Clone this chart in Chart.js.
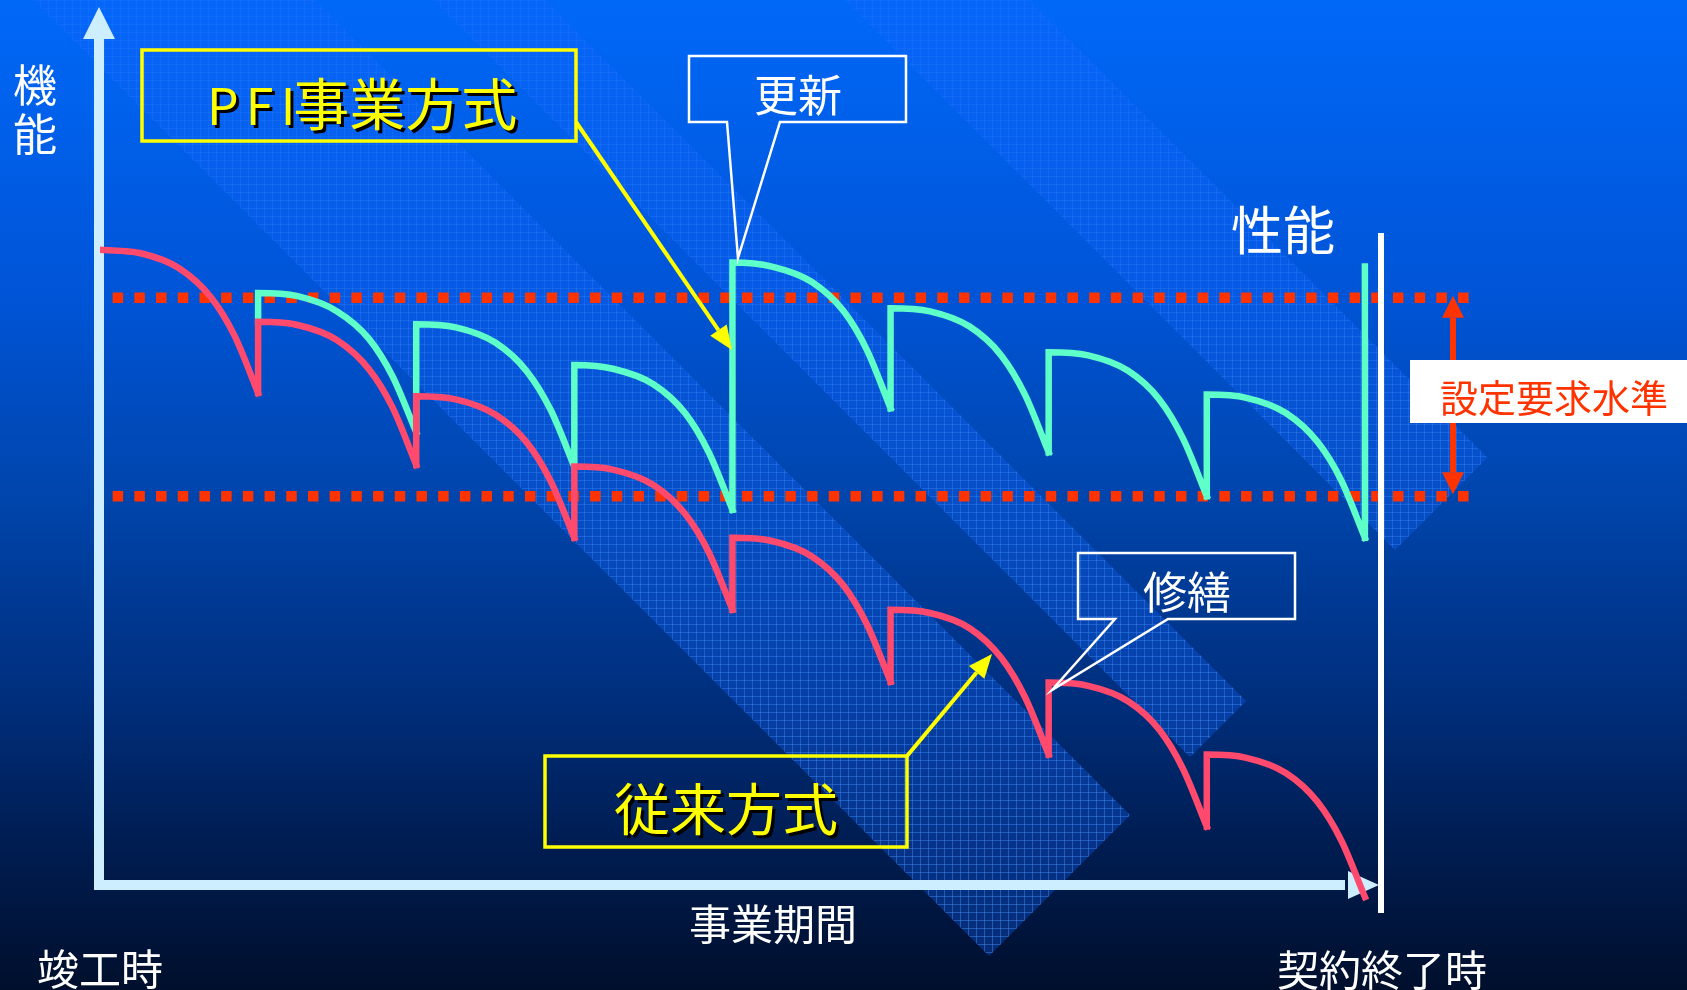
<!DOCTYPE html>
<html lang="ja">
<head>
<meta charset="utf-8">
<title>PFI事業方式と従来方式</title>
<script src="https://cdn.jsdelivr.net/npm/chart.js@4.4.1/dist/chart.umd.min.js"></script>
<style>
    html, body { margin: 0; padding: 0; overflow: hidden; background: #000f2c; }
    #stage { position: relative; width: 1687px; height: 990px; }
    #chart-canvas { position: absolute; left: 0; top: 0; }
    .label {
        position: absolute;
        transform: translate(-50%, -50%);
        white-space: nowrap;
        line-height: 1;
        color: #ffffff;
        font-family: "Noto Sans CJK JP", "Noto Sans CJK SC", sans-serif;
    }
    .yellow { color: #ffff00; text-shadow: 3px 3px 0 #000000; }
</style>
</head>
<body>
<div id="stage">
    <canvas id="chart-canvas" width="1687" height="990"></canvas>
    <div class="label" style="left:35px; top:108px; font-size:44px; line-height:49px; text-align:center;">機<br>能</div>
    <div class="label yellow" style="left:207px; top:101px; transform:translateY(-50%); font-size:56px;"><span style="font-size:50px; letter-spacing:-2px;">P F I</span>事業方式</div>
    <div class="label" style="left:798px; top:93px; font-size:44px;">更新</div>
    <div class="label" style="left:1283px; top:228px; font-size:52px;">性能</div>
    <div class="label" style="left:1554px; top:396px; font-size:38px; color:#ff3300;">設定要求水準</div>
    <div class="label" style="left:1187px; top:590px; font-size:44px;">修繕</div>
    <div class="label yellow" style="left:726px; top:806px; font-size:56px;">従来方式</div>
    <div class="label" style="left:773px; top:922px; font-size:42px;">事業期間</div>
    <div class="label" style="left:100px; top:967px; font-size:42px;">竣工時</div>
    <div class="label" style="left:1382px; top:968px; font-size:42px;">契約終了時</div>
</div>
<script>
// 周期の開始位置 (事業期間を8周期に区切る)
const cycleStarts = [0, 1, 2, 3, 4, 5, 6, 7];
// 1周期の中で値を読んだ位置 (周期に対する割合)
const cycleSteps = [0, 0.25, 0.5, 0.7, 0.85, 1];

// 従来方式: 周期ごとの機能の低下 (修繕で一部だけ回復)
const conventionalCycles = [
    [79.4, 79.0, 77.1, 73.5, 68.7, 61.5],
    [70.4, 70.0, 68.1, 64.5, 59.7, 52.5],
    [61.1, 60.7, 58.8, 55.3, 50.5, 43.4],
    [52.3, 51.9, 50.0, 46.4, 41.6, 34.4],
    [43.4, 43.0, 41.1, 37.5, 32.6, 25.4],
    [34.4, 34.0, 32.1, 28.4, 23.5, 16.3],
    [25.3, 24.9, 23.0, 19.4, 14.5, 7.3],
    [16.3, 15.9, 14.0, 10.4, 5.6, -1.5]
];

// PFI事業方式: 2周期目から分かれ、4周期目の終わりに更新
const pfiStartFrom = 70.4;
const pfiCycles = [
    [74.0, 73.6, 71.7, 68.3, 63.6, 56.6],
    [70.1, 69.7, 67.8, 64.2, 59.4, 52.3],
    [65.0, 64.5, 62.6, 59.0, 54.1, 46.9],
    [77.8, 77.3, 75.4, 71.8, 66.9, 59.6],
    [72.1, 71.7, 69.8, 66.2, 61.3, 54.1],
    [66.6, 66.2, 64.3, 60.7, 55.8, 48.6],
    [61.3, 60.9, 59.0, 55.4, 50.6, 43.4]
];
const pfiFinalRenewal = 77.3;

// 設定要求水準 (上限・下限) と点線の範囲
const requiredUpper = 73.4;
const requiredLower = 48.6;
const requiredSpan = [0.08, 8.71];

// 周期ごとの点列をつなぐ (縦の回復部分は次の区間の先頭に入れる)
function buildSeries(firstCycle, cycles, leadIn, finalJump) {
    const points = [];
    let prev = leadIn;
    cycles.forEach((values, i) => {
        const x0 = cycleStarts[firstCycle + i];
        if (prev !== null) points.push({ x: x0, y: prev });
        values.forEach((v, j) => points.push({ x: x0 + cycleSteps[j], y: v }));
        prev = values[values.length - 1];
        points.push({ x: x0 + 1, y: null });
    });
    if (finalJump !== null) {
        const xEnd = cycleStarts[firstCycle + cycles.length - 1] + 1;
        points.push({ x: xEnd, y: prev }, { x: xEnd, y: finalJump });
    }
    return points;
}

function drawArrow(ctx, x1, y1, x2, y2, color, lineW, headLen, headHalf) {
    const ang = Math.atan2(y2 - y1, x2 - x1);
    const bx = x2 - headLen * Math.cos(ang);
    const by = y2 - headLen * Math.sin(ang);
    ctx.strokeStyle = color;
    ctx.lineWidth = lineW;
    ctx.beginPath();
    ctx.moveTo(x1, y1);
    ctx.lineTo(bx, by);
    ctx.stroke();
    ctx.fillStyle = color;
    ctx.beginPath();
    ctx.moveTo(x2, y2);
    ctx.lineTo(bx + headHalf * Math.sin(ang), by - headHalf * Math.cos(ang));
    ctx.lineTo(bx - headHalf * Math.sin(ang), by + headHalf * Math.cos(ang));
    ctx.closePath();
    ctx.fill();
}

function drawPolygon(ctx, pts, color, lineW) {
    ctx.strokeStyle = color;
    ctx.lineWidth = lineW;
    ctx.lineJoin = 'miter';
    ctx.beginPath();
    pts.forEach(([x, y], i) => (i ? ctx.lineTo(x, y) : ctx.moveTo(x, y)));
    ctx.closePath();
    ctx.stroke();
}

// 斜めの帯 (x - y = c の2本の線と x + y = s の端で囲む)
function drawBand(ctx, c1, c2, sEnd, w, h) {
    const pt = (c, s) => [(c + s) / 2, (s - c) / 2];
    const corners = [pt(c1, sEnd), pt(c2, sEnd), pt(c2, -600), pt(c1, -600)];
    ctx.save();
    ctx.beginPath();
    corners.forEach(([x, y], i) => (i ? ctx.lineTo(x, y) : ctx.moveTo(x, y)));
    ctx.closePath();
    ctx.fillStyle = 'rgba(20, 100, 255, 0.32)';
    ctx.fill();
    ctx.clip();
    // 格子は下に行くほど濃く見える
    const gridColor = ctx.createLinearGradient(0, 0, 0, h);
    gridColor.addColorStop(0, 'rgba(70, 150, 255, 0.12)');
    gridColor.addColorStop(0.5, 'rgba(70, 150, 255, 0.3)');
    gridColor.addColorStop(1, 'rgba(70, 150, 255, 0.45)');
    ctx.strokeStyle = gridColor;
    ctx.lineWidth = 1;
    ctx.beginPath();
    for (let x = 0.5; x < w; x += 8) { ctx.moveTo(x, 0); ctx.lineTo(x, h); }
    for (let y = 0.5; y < h; y += 8) { ctx.moveTo(0, y); ctx.lineTo(w, y); }
    ctx.stroke();
    ctx.restore();
}

const slideDecor = {
    id: 'slideDecor',
    beforeDraw(chart) {
        const { ctx, width, height } = chart;
        const g = ctx.createLinearGradient(0, 0, 0, height);
        g.addColorStop(0, '#0068f8');
        g.addColorStop(0.3, '#0054d6');
        g.addColorStop(0.5, '#0045ac');
        g.addColorStop(0.7, '#002f7e');
        g.addColorStop(0.85, '#001d52');
        g.addColorStop(1, '#000f2c');
        ctx.save();
        ctx.fillStyle = g;
        ctx.fillRect(0, 0, width, height);
        drawBand(ctx, 33, 315, 1945, width, height);
        drawBand(ctx, 433, 545, 1947, width, height);
        drawBand(ctx, 845, 1030, 1945, width, height);
        ctx.restore();
    },
    beforeDatasetsDraw(chart) {
        // 縦軸・横軸の矢印
        const { ctx } = chart;
        const xs = chart.scales.x;
        const ys = chart.scales.y;
        const ax = xs.getPixelForValue(0) - 1;
        const ay = ys.getPixelForValue(0);
        ctx.save();
        ctx.fillStyle = '#cceeff';
        ctx.fillRect(ax - 5, 38, 10, ay - 38 + 5);
        ctx.fillRect(ax - 5, ay - 5, 1350 - ax, 10);
        ctx.beginPath();
        ctx.moveTo(ax, 7);
        ctx.lineTo(ax + 16, 39);
        ctx.lineTo(ax - 16, 39);
        ctx.closePath();
        ctx.fill();
        ctx.beginPath();
        ctx.moveTo(1379, ay);
        ctx.lineTo(1348, ay - 14);
        ctx.lineTo(1348, ay + 14);
        ctx.closePath();
        ctx.fill();
        ctx.restore();
    },
    afterDatasetsDraw(chart) {
        const { ctx } = chart;
        const ys = chart.scales.y;
        ctx.save();
        // 契約終了時の縦線
        ctx.fillStyle = '#ffffff';
        ctx.fillRect(1378, 233, 6, 680);

        // 吹き出し (更新・修繕)
        drawPolygon(ctx, [[689, 56], [906, 56], [906, 122], [780, 122], [738, 258], [727, 122], [689, 122]], '#ffffff', 2.5);
        drawPolygon(ctx, [[1078, 553], [1295, 553], [1295, 619], [1168, 619], [1052, 690], [1115, 619], [1078, 619]], '#ffffff', 2.5);

        // 黄色の枠と矢印
        ctx.strokeStyle = '#ffff00';
        ctx.lineWidth = 3.5;
        ctx.strokeRect(142, 50, 434, 91);
        ctx.strokeRect(545, 756, 362, 91);
        drawArrow(ctx, 576, 122, 732, 350, '#ffff00', 4, 24, 10);
        drawArrow(ctx, 907, 756, 992, 654, '#ffff00', 4, 24, 10);

        // 設定要求水準の幅を示す矢印
        const yu = ys.getPixelForValue(requiredUpper);
        const yl = ys.getPixelForValue(requiredLower);
        const mid = (yu + yl) / 2;
        drawArrow(ctx, 1453, mid, 1453, yu - 2, '#ff3300', 6, 22, 11);
        drawArrow(ctx, 1453, mid, 1453, yl - 2, '#ff3300', 6, 22, 11);
        ctx.fillStyle = '#ffffff';
        ctx.fillRect(1410, 360, 277, 63);
        ctx.restore();
    }
};

function levelLine(label, value) {
    return {
        label: label,
        data: [{ x: requiredSpan[0], y: value }, { x: requiredSpan[1], y: value }],
        borderColor: '#ff3300',
        borderWidth: 10.5,
        borderDash: [10.5, 11.2],
        borderCapStyle: 'butt',
        pointRadius: 0,
        fill: false
    };
}

document.addEventListener('DOMContentLoaded', () => {
    const ctx = document.getElementById('chart-canvas').getContext('2d');
    new Chart(ctx, {
        type: 'line',
        data: {
            datasets: [
                {
                    label: '従来方式',
                    data: buildSeries(0, conventionalCycles, null, null),
                    borderColor: '#ff4a6e',
                    borderWidth: 6.5,
                    cubicInterpolationMode: 'monotone',
                    borderCapStyle: 'square',
                    pointRadius: 0,
                    fill: false
                },
                {
                    label: 'PFI事業方式',
                    data: buildSeries(1, pfiCycles, pfiStartFrom, pfiFinalRenewal),
                    borderColor: '#5effc8',
                    borderWidth: 6.5,
                    cubicInterpolationMode: 'monotone',
                    borderCapStyle: 'square',
                    pointRadius: 0,
                    fill: false
                },
                levelLine('設定要求水準(上)', requiredUpper),
                levelLine('設定要求水準(下)', requiredLower)
            ]
        },
        options: {
            responsive: false,
            animation: false,
            events: [],
            layout: { padding: { left: 100, right: 164, top: 85, bottom: 65 } },
            scales: {
                x: { type: 'linear', min: 0, max: 9, display: false },
                y: { type: 'linear', min: -5, max: 100, display: false }
            },
            plugins: {
                legend: { display: false },
                tooltip: { enabled: false }
            }
        },
        plugins: [slideDecor]
    });
});
</script>
</body>
</html>
